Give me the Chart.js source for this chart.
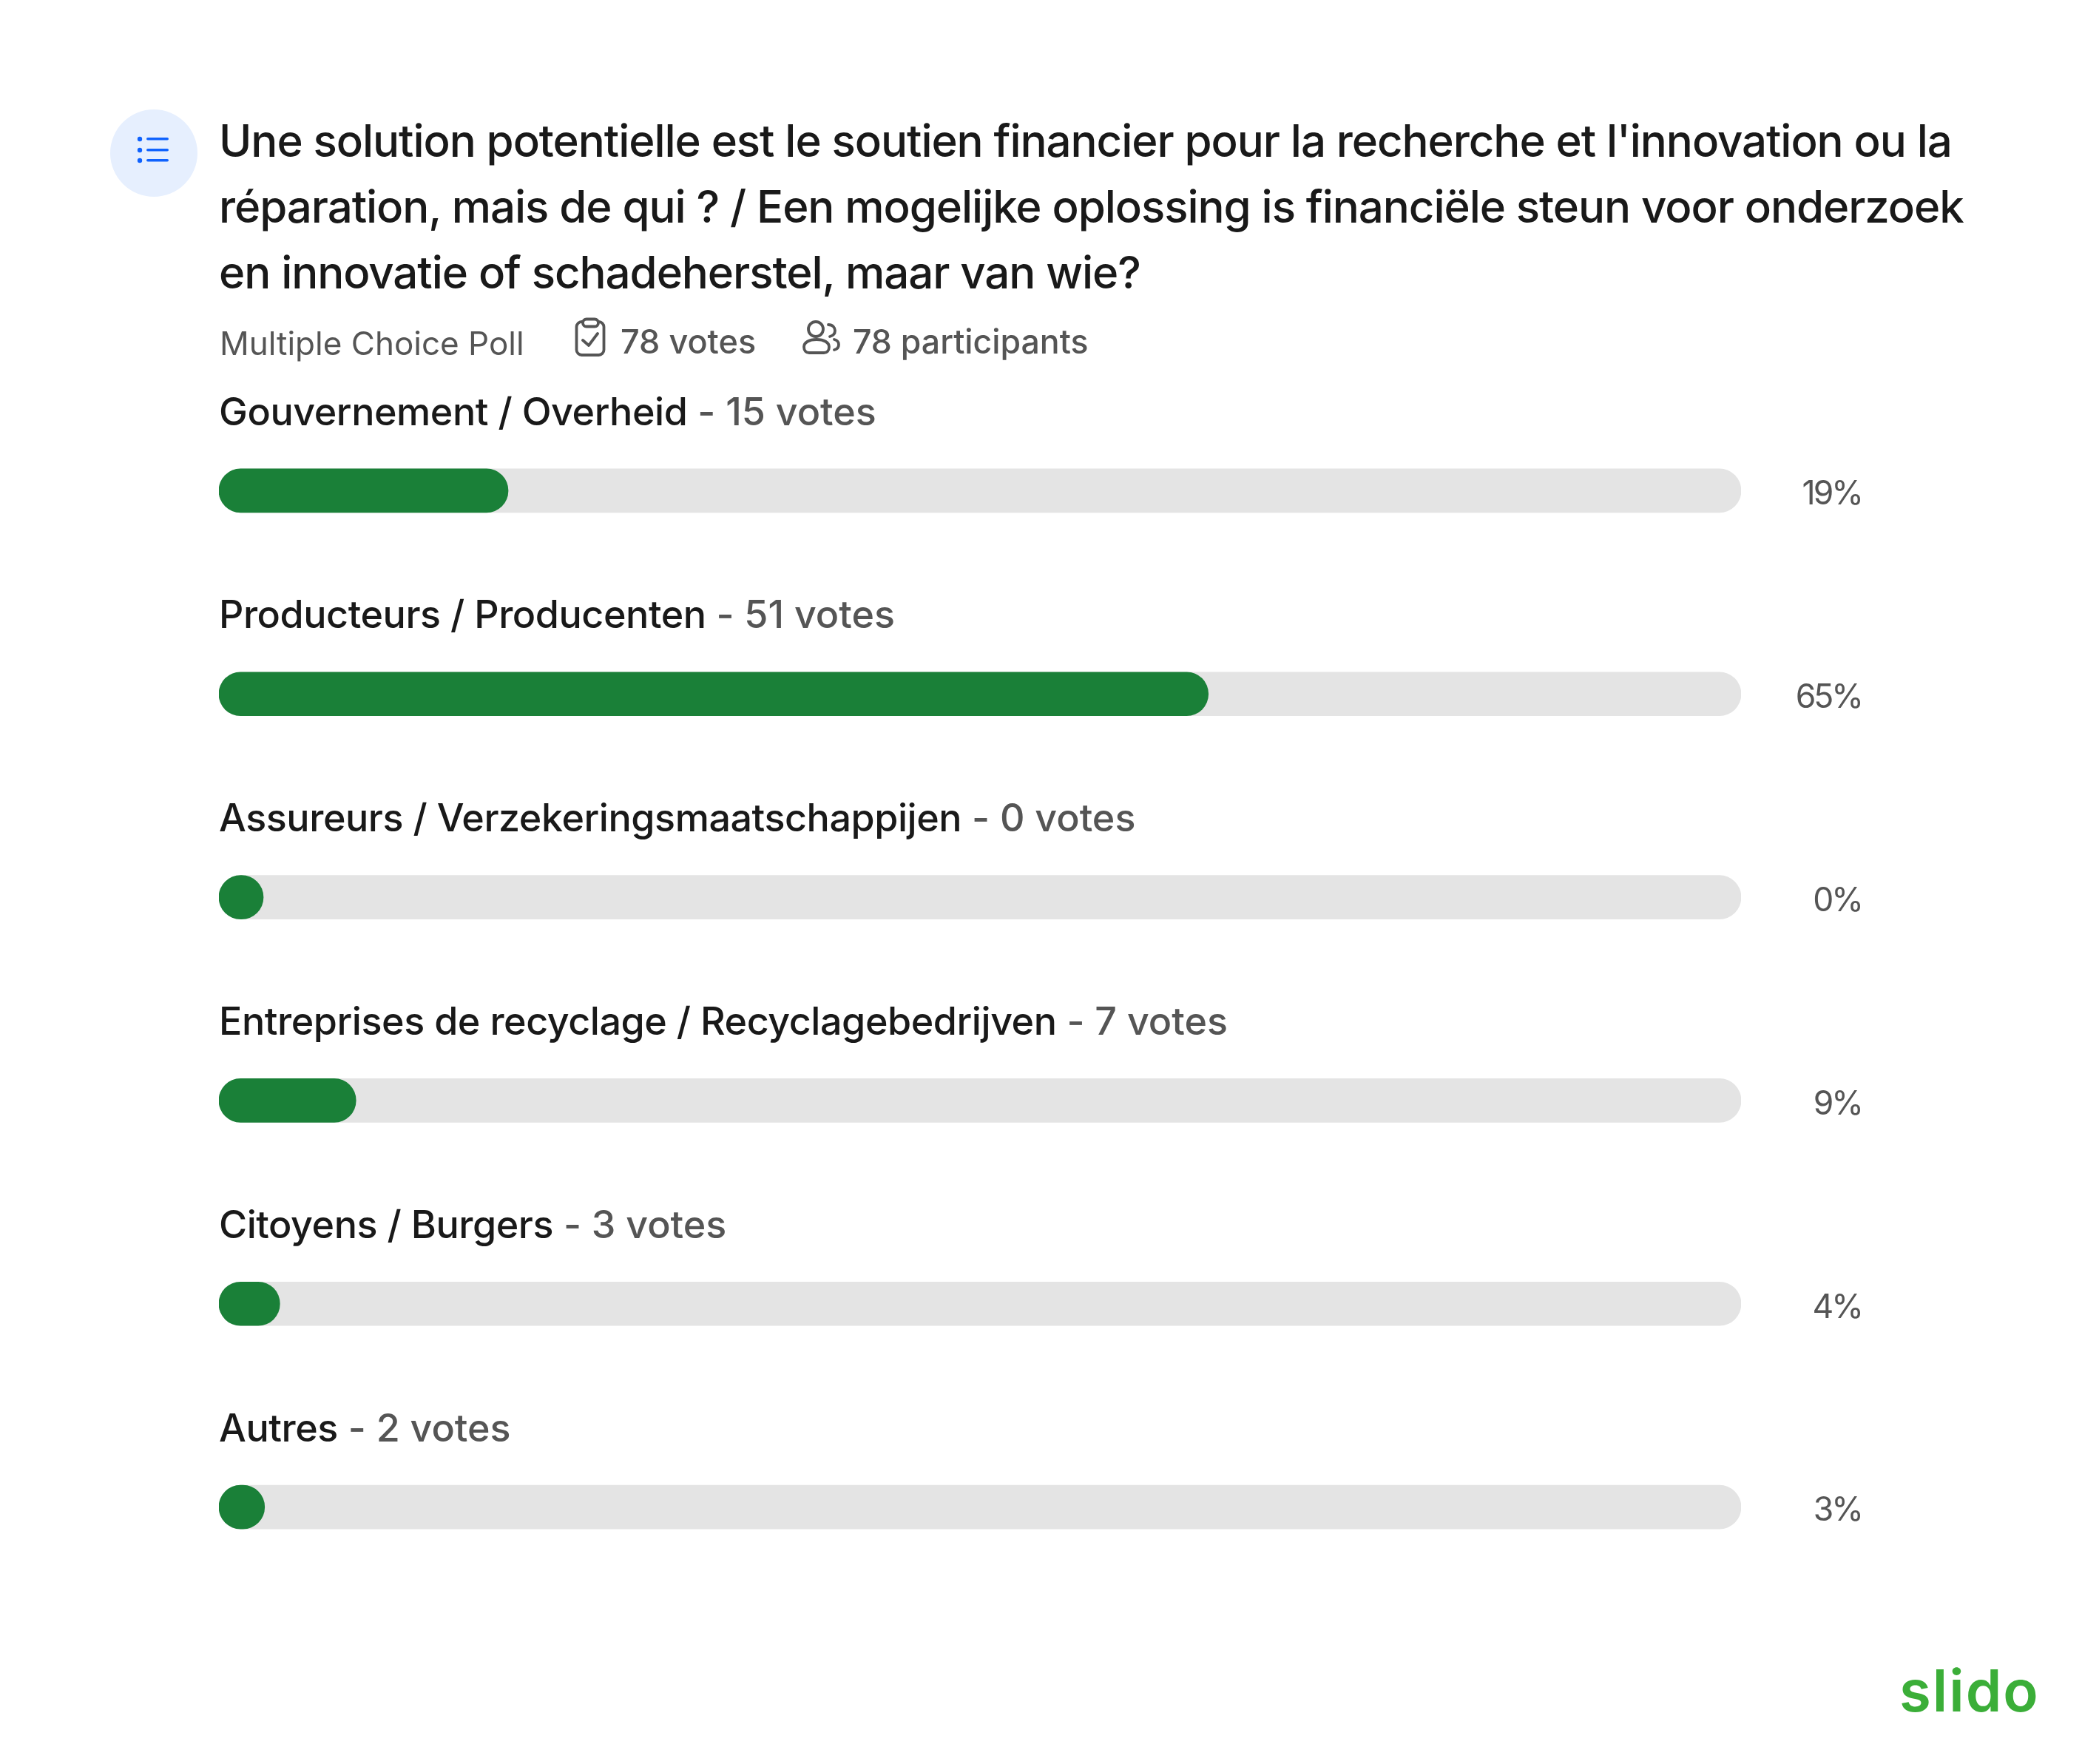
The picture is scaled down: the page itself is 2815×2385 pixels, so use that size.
<!DOCTYPE html>
<html lang="fr">
<head>
<meta charset="UTF-8" />
<title>Slido poll</title>
<script src="https://cdn.jsdelivr.net/npm/chart.js"></script>
<style>
  html, body { margin: 0; padding: 0; background: #fff; }
  body { position: relative; width: 2815px; height: 2385px; overflow: hidden; font-family: Inter, sans-serif; }
  #myChart { position: absolute; left: 0; top: 0; }
  .txt { position: absolute; white-space: pre; }
  .title { left: 296px; top: 146px; font-size: 60px; line-height: 89px; font-weight: 500; color: #191919; letter-spacing: -1.06px; }
  .meta { top: 430px; line-height: 64px; font-size: 45px; color: #555; }
  .logo { left: 2568px; top: 2231px; font-size: 78px; line-height: 110px; font-weight: 600; color: #3bae38; letter-spacing: 2px; }
  svg { position: absolute; }
</style>
</head>
<body>
  <canvas id="myChart" width="2815" height="2385"></canvas>

  <svg style="left:148px;top:148px" width="120" height="120" viewBox="0 0 120 120">
    <circle cx="60" cy="59" r="59" fill="#e6effe" />
    <g fill="#0f62fe">
      <circle cx="41" cy="40" r="3.2" /><circle cx="41" cy="55" r="3.2" /><circle cx="41" cy="69" r="3.2" />
      <rect x="50" y="38" width="30" height="3.6" rx="1.8" />
      <rect x="50" y="53" width="30" height="3.6" rx="1.8" />
      <rect x="50" y="67" width="30" height="3.6" rx="1.8" />
    </g>
  </svg>

  <div class="txt title">Une solution potentielle est le soutien financier pour la recherche et l'innovation ou la
réparation, mais de qui ? / Een mogelijke oplossing is financiële steun voor onderzoek
en innovatie of schadeherstel, maar van wie?</div>

  <div class="txt meta" style="left:297px;top:432px;font-size:44px">Multiple Choice Poll</div>
  <svg style="left:776px;top:428px" width="44" height="56" viewBox="0 0 44 56" fill="none" stroke="#555" stroke-width="3.8" stroke-linejoin="round" stroke-linecap="round">
    <rect x="3.5" y="7" width="37" height="45" rx="7" />
    <rect x="12" y="3.5" width="21" height="10" rx="5" fill="#fff" />
    <path d="M12 32 L20 39 L32 23" />
  </svg>
  <div class="txt meta" style="left:839px;font-weight:500">78 votes</div>
  <svg style="left:1085px;top:432px" width="54" height="50" viewBox="0 0 54 50" fill="none" stroke="#555" stroke-width="3.8" stroke-linecap="round">
    <circle cx="18" cy="13" r="10" />
    <path d="M2 37 C2 31 9 27 19 27 C29 27 36 31 36 37 C36 42 33 45 29 45 L9 45 C5 45 2 42 2 37 Z" />
    <path d="M35 7 C41 7 44 11 44 15 C44 19 41 22 37 23" />
    <path d="M43 27 C47 28 49 31 49 34 C49 38 47 40 43 41" />
  </svg>
  <div class="txt meta" style="left:1153px;font-weight:500;font-size:44.6px">78 participants</div>

  <div class="txt logo">slido</div>

<script>
  const categories = [
    "Gouvernement / Overheid",
    "Producteurs / Producenten",
    "Assureurs / Verzekeringsmaatschappijen",
    "Entreprises de recyclage / Recyclagebedrijven",
    "Citoyens / Burgers",
    "Autres",
  ];
  const votes = [15, 51, 0, 7, 3, 2];
  const percents = [19, 65, 0, 9, 4, 3];
  const trackValues = [100, 100, 100, 100, 100, 100];

  // labels above each bar and the percent on the right
  const rowLabels = {
    id: "rowLabels",
    afterDatasetsDraw(chart) {
      const ctx = chart.ctx;
      const y = chart.scales.y;
      ctx.save();
      ctx.textBaseline = "middle";
      categories.forEach((name, i) => {
        const cy = y.getPixelForValue(i);
        ctx.textAlign = "left";
        ctx.letterSpacing = "-0.44px";
        ctx.font = "500 52px Inter";
        ctx.fillStyle = "#191919";
        ctx.fillText(name, chart.chartArea.left, cy - 104.5);
        const w = ctx.measureText(name).width;
        ctx.letterSpacing = "0px";
        ctx.fillStyle = "#555555";
        ctx.fillText(" - " + votes[i] + " votes", chart.chartArea.left + w, cy - 104.5);

        ctx.textAlign = "right";
        ctx.letterSpacing = "-3px";
        ctx.font = "400 44.5px Inter";
        ctx.fillText(percents[i] + "%", 2517, cy + 5.5);
      });
      ctx.restore();
    },
  };

  new Chart(document.getElementById("myChart"), {
    type: "bar",
    data: {
      labels: categories,
      datasets: [
        {
          data: percents,
          backgroundColor: "#1a8038",
          borderRadius: 30,
          borderSkipped: false,
          minBarLength: 60,
          barThickness: 59,
          order: 1,
        },
        {
          data: trackValues,
          backgroundColor: "#e4e4e4",
          borderRadius: 30,
          borderSkipped: false,
          barThickness: 59,
          order: 2,
        },
      ],
    },
    options: {
      indexAxis: "y",
      responsive: false,
      devicePixelRatio: 1,
      animation: false,
      layout: { padding: { left: 296, right: 461, top: 526, bottom: 210 } },
      datasets: { bar: { grouped: false } },
      scales: {
        x: { display: false, min: 0, max: 100 },
        y: { display: false },
      },
      plugins: { legend: { display: false }, tooltip: { enabled: false } },
    },
    plugins: [rowLabels],
  });
</script>
</body>
</html>
